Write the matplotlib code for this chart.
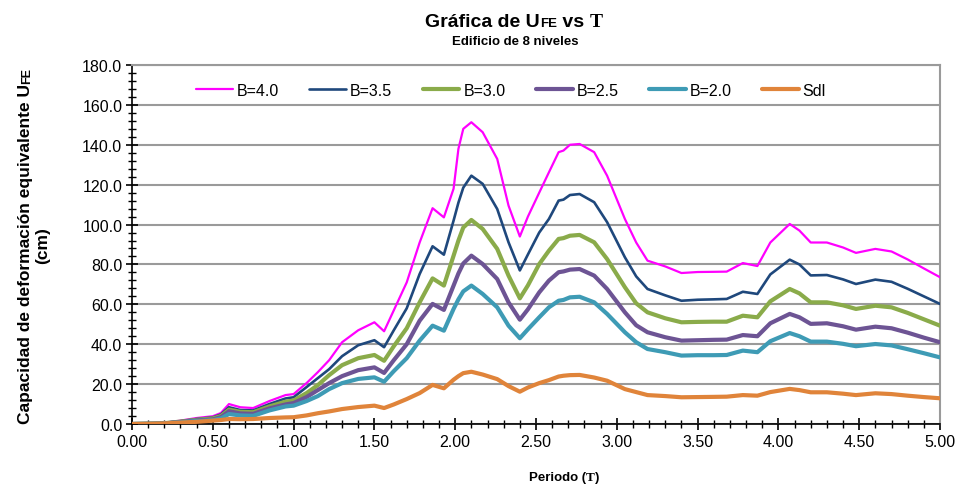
import numpy as np
import matplotlib
matplotlib.use("Agg")
import matplotlib.pyplot as plt
from matplotlib.ticker import MultipleLocator, FormatStrFormatter

plt.rcParams['font.family'] = ['Liberation Sans', 'DejaVu Sans']

# periodo T (s)
T = [0.00, 0.10, 0.20, 0.30, 0.40, 0.50, 0.55, 0.60, 0.67, 0.75,
     0.85, 0.95, 1.00, 1.08, 1.15, 1.22, 1.30, 1.40, 1.50, 1.56,
     1.62, 1.70, 1.78, 1.86, 1.93, 1.99, 2.02, 2.05, 2.10, 2.17,
     2.26, 2.33, 2.40, 2.45, 2.52, 2.58, 2.64, 2.67, 2.71, 2.77,
     2.86, 2.94, 3.05, 3.12, 3.19, 3.30, 3.40, 3.50, 3.60, 3.68,
     3.78, 3.87, 3.95, 4.07, 4.13, 4.20, 4.30, 4.40, 4.48, 4.60,
     4.70, 4.80, 4.90, 5.00]

u_b40 = [0.0, 0.2, 0.6, 1.7, 3.0, 3.9, 5.5, 10.0, 8.4, 8.0,
         11.5, 14.5, 15.0, 20.5, 26.0, 32.0, 41.0, 47.0, 51.0, 46.5,
         57.0, 71.0, 91.0, 108.2, 103.6, 118.0, 138.0, 148.0, 151.3, 146.3,
         132.9, 109.5, 94.0, 104.0, 116.0, 126.2, 136.3, 137.1, 140.0, 140.4,
         136.3, 124.5, 102.8, 91.0, 81.9, 79.0, 75.7, 76.2, 76.3, 76.4,
         80.7, 79.2, 91.0, 100.3, 97.0, 91.0, 91.0, 88.5, 85.8, 87.8,
         86.5, 82.5, 78.0, 73.6]

u_b35 = [0.0, 0.2, 0.5, 1.4, 2.5, 3.3, 4.8, 8.4, 7.0, 6.8,
         10.0, 12.8, 13.4, 18.5, 23.0, 27.5, 34.0, 39.5, 42.0, 38.5,
         47.0, 58.0, 75.2, 89.1, 84.9, 102.0, 111.0, 118.5, 124.5, 120.4,
         107.8, 91.1, 77.0, 85.0, 96.0, 102.8, 112.0, 112.5, 114.8, 115.3,
         111.2, 101.2, 83.6, 74.0, 67.7, 64.5, 61.8, 62.3, 62.5, 62.7,
         66.3, 65.2, 75.0, 82.4, 80.0, 74.5, 74.7, 72.5, 70.2, 72.4,
         71.3, 67.8, 64.0, 60.2]

u_b30 = [0.0, 0.2, 0.4, 1.2, 2.1, 2.8, 4.0, 7.2, 6.1, 5.9,
         8.8, 11.2, 11.8, 15.5, 19.5, 24.5, 29.5, 33.0, 34.6, 31.7,
         39.0, 48.0, 61.0, 73.0, 69.4, 84.4, 92.0, 98.5, 102.3, 97.8,
         87.8, 74.4, 63.0, 69.5, 80.2, 86.9, 92.8, 93.2, 94.4, 94.8,
         91.1, 82.7, 68.6, 60.5, 56.0, 53.0, 51.0, 51.2, 51.3, 51.3,
         54.3, 53.5, 61.5, 67.7, 65.5, 61.0, 61.0, 59.5, 57.7, 59.3,
         58.5, 55.7, 52.5, 49.3]

u_b25 = [0.0, 0.1, 0.3, 1.0, 1.8, 2.3, 3.4, 6.4, 5.3, 5.1,
         7.8, 9.8, 10.5, 13.5, 17.0, 20.5, 24.0, 27.0, 28.4, 25.6,
         32.0, 40.0, 51.8, 60.2, 57.2, 69.4, 75.5, 80.5, 84.4, 80.2,
         72.7, 61.0, 52.3, 57.5, 66.0, 71.9, 76.1, 76.5, 77.4, 77.7,
         74.4, 67.7, 56.0, 49.5, 46.0, 43.5, 41.8, 42.0, 42.2, 42.3,
         44.6, 44.0, 50.5, 55.2, 53.5, 50.2, 50.5, 49.0, 47.3, 48.8,
         48.0, 45.8, 43.3, 41.0]

u_b20 = [0.0, 0.1, 0.3, 0.8, 1.5, 1.9, 2.8, 5.0, 4.3, 4.1,
         6.8, 8.8, 9.2, 11.5, 14.0, 17.5, 20.5, 22.6, 23.4, 21.2,
         26.5, 33.0, 41.8, 49.3, 46.8, 57.7, 62.5, 66.5, 69.4, 65.2,
         58.5, 49.3, 43.0, 47.5, 53.5, 58.5, 61.8, 62.2, 63.5, 63.8,
         61.0, 55.2, 46.0, 41.0, 37.6, 36.0, 34.3, 34.5, 34.5, 34.6,
         36.8, 36.0, 41.5, 45.6, 44.0, 41.3, 41.3, 40.2, 39.0, 40.1,
         39.4, 37.5, 35.5, 33.4]

sdl = [0.0, 0.1, 0.3, 0.7, 1.1, 1.7, 2.0, 2.5, 2.4, 2.5,
       3.0, 3.3, 3.4, 4.3, 5.4, 6.3, 7.5, 8.5, 9.2, 8.0,
       9.8, 12.5, 15.5, 19.6, 17.9, 22.2, 24.0, 25.5, 26.2, 24.8,
       22.5, 19.0, 16.2, 18.3, 20.5, 22.0, 23.8, 24.2, 24.5, 24.6,
       23.3, 21.7, 17.5, 16.0, 14.5, 14.0, 13.4, 13.5, 13.6, 13.7,
       14.5, 14.2, 16.0, 17.6, 17.0, 15.9, 15.9, 15.2, 14.5, 15.4,
       15.0, 14.2, 13.5, 12.9]

series = [
    ("B=4.0", u_b40, "#ff00ff", 1.6),
    ("B=3.5", u_b35, "#1f487c", 1.9),
    ("B=3.0", u_b30, "#8aab4a", 3.0),
    ("B=2.5", u_b25, "#6d5494", 3.0),
    ("B=2.0", u_b20, "#3e9bb5", 3.0),
    ("Sdl", sdl, "#e0843a", 3.0),
]

W, H = 959, 489
fig = plt.figure(figsize=(W / 100, H / 100), dpi=100)
ax = fig.add_axes([132 / W, 1 - 425 / H, 808 / W, 359 / H])

for name, vals, col, lw in series:
    ax.plot(T, vals, color=col, lw=lw, label=name, solid_capstyle='round',
            solid_joinstyle='round', zorder=3)

ax.set_xlim(0, 5)
ax.set_ylim(0, 180)
ax.xaxis.set_major_locator(MultipleLocator(0.5))
ax.xaxis.set_minor_locator(MultipleLocator(0.1))
ax.yaxis.set_major_locator(MultipleLocator(20))
ax.yaxis.set_minor_locator(MultipleLocator(4))
ax.xaxis.set_major_formatter(FormatStrFormatter('%.2f'))
ax.yaxis.set_major_formatter(FormatStrFormatter('%.1f'))
ax.tick_params(which='major', direction='inout', length=8, width=1.2,
               labelsize=11.5, color='black', pad=3)
ax.tick_params(which='minor', direction='inout', length=6, width=1.0,
               color='black')
ax.grid(axis='y', which='major', color='#9a9a9a', lw=1.5, zorder=1)
ax.set_axisbelow(True)
for side in ('left', 'bottom'):
    ax.spines[side].set_color('black')
    ax.spines[side].set_linewidth(1.2)
for side in ('right', 'top'):
    ax.spines[side].set_color('#9a9a9a')
    ax.spines[side].set_linewidth(1.5)

ax.legend(loc='center', bbox_to_anchor=((511 - 132) / 808, (425 - 91) / 359),
          ncol=6, frameon=False, fontsize=11.5, handlelength=2.3,
          handletextpad=0.25, columnspacing=1.9)

renderer = fig.canvas.get_renderer()


def parts_text(parts, cx, cy, rotation=0):
    # pieces of different sizes on one baseline, centred on cx (or on cy if rotated)
    objs = []
    for s, size, fam in parts:
        t = fig.text(0, 0, s, fontsize=size, fontweight='bold', family=fam,
                     rotation=rotation, rotation_mode='anchor',
                     ha='left', va='baseline')
        objs.append(t)
    sizes = []
    for t in objs:
        bb = t.get_window_extent(renderer)
        sizes.append(bb.height if rotation else bb.width)
    pos = (cy if rotation else cx) - sum(sizes) / 2
    for t, s in zip(objs, sizes):
        if rotation:
            t.set_position((cx / W, pos / H))
        else:
            t.set_position((pos / W, 1 - cy / H))
        pos += s


serif = ['Liberation Serif', 'DejaVu Serif']
sans = ['Liberation Sans', 'DejaVu Sans']

# title
parts_text([("Gráfica de U", 14, sans), ("FE", 9.5, sans), (" vs ", 14, sans),
            ("T", 14, serif)], 514, 27)
fig.text(515 / W, 1 - 45 / H, "Edificio de 8 niveles", fontsize=9.5,
         fontweight='bold', ha='center', va='baseline')

# x label
parts_text([("Periodo (", 9.5, sans), ("T", 9.5, serif), (")", 9.5, sans)],
           564, 481)

# y label (rotated, reads bottom-up)
parts_text([("Capacidad de deformación equivalente U", 12.5, sans),
            ("FE", 9, sans)], 30, H - 246, rotation=90)
fig.text(47 / W, 1 - 246 / H, "(cm)", fontsize=12.5, fontweight='bold',
         rotation=90, rotation_mode='anchor', ha='center', va='baseline')

fig.savefig("out.png", dpi=100)
